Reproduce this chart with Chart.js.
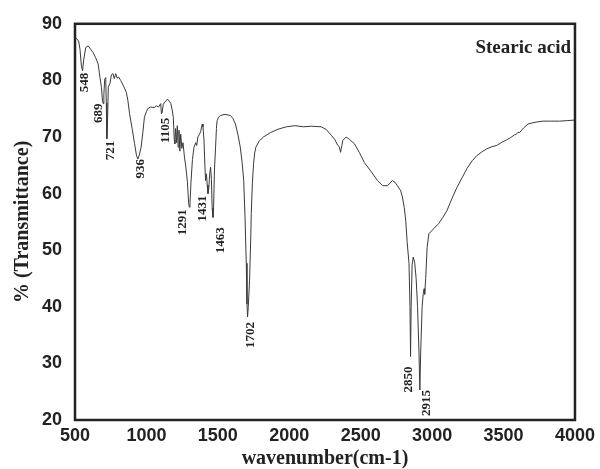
<!DOCTYPE html>
<html>
<head>
<meta charset="utf-8">
<script src="https://cdn.jsdelivr.net/npm/chart.js@4"></script>
<style>
  html, body { margin: 0; padding: 0; background: #fff; }
  #wrap { width: 600px; height: 469px; }
</style>
</head>
<body>
<div id="wrap"><canvas id="irChart"></canvas></div>
<script>
// FTIR trace (cm-1 vs %T)
let wavenumber = [
  505, 512, 525, 535, 545, 553, 560, 575, 592, 610, 627, 645, 662, 675, 685, 692, 697, 702, 708, 715,
  719, 723, 727, 733, 745, 755, 766, 775, 785, 795, 805, 820, 840, 859, 870, 882, 900, 917, 930, 940,
  950, 963, 975, 986, 1000, 1009, 1030, 1055, 1070, 1085, 1100, 1105, 1110, 1118, 1130, 1148, 1160, 1171, 1180, 1188,
  1195, 1199, 1204, 1210, 1216, 1222, 1228, 1234, 1240, 1248, 1256, 1266, 1276, 1287, 1295, 1300, 1305, 1312, 1322, 1333,
  1345, 1352, 1360, 1372, 1380, 1391, 1396, 1403, 1410, 1414, 1420, 1426, 1431, 1437, 1443, 1449, 1455, 1460, 1466, 1470,
  1476, 1484, 1490, 1495, 1505, 1519, 1550, 1588, 1605, 1623, 1640, 1657, 1670, 1681, 1690, 1699, 1704, 1708, 1713, 1722,
  1730, 1734, 1742, 1750, 1758, 1766, 1790, 1819, 1870, 1924, 1980, 2039, 2100, 2155, 2224, 2260, 2294, 2320, 2340, 2350,
  2359, 2368, 2375, 2398, 2420, 2456, 2490, 2525, 2570, 2618, 2653, 2688, 2722, 2740, 2757, 2780, 2792, 2805, 2815, 2825,
  2838, 2845, 2849, 2853, 2860, 2868, 2878, 2888, 2898, 2908, 2914, 2920, 2930, 2938, 2944, 2948, 2955, 2965, 2977, 3011,
  3046, 3075, 3104, 3140, 3174, 3210, 3243, 3280, 3313, 3350, 3382, 3420, 3451, 3490, 3521, 3550, 3578, 3590, 3600, 3613,
  3640, 3671, 3720, 3775, 3830, 3891, 3950, 4000
];
let transmittance = [
  87.5, 87.3, 87.0, 85.5, 82.5, 81.7, 83.5, 85.8, 86.1, 85.5, 84.9, 84.0, 82.9, 80.5, 78.8, 76.5, 75.9, 77.5, 80.2, 80.5,
  76.0, 69.7, 72.0, 78.8, 79.5, 81.0, 81.2, 80.3, 81.2, 80.4, 80.6, 80.0, 79.0, 77.9, 76.5, 74.1, 71.5, 68.8, 66.8, 66.1,
  66.8, 68.2, 70.8, 73.5, 74.5, 75.0, 75.3, 75.2, 75.5, 75.3, 75.9, 74.1, 74.3, 75.8, 76.2, 76.7, 76.3, 75.9, 74.8, 73.5,
  69.5, 68.8, 71.5, 69.0, 72.0, 68.2, 71.2, 67.5, 70.5, 68.0, 69.0, 66.5, 64.7, 62.0, 58.5, 57.6, 58.2, 62.0, 66.0, 68.2,
  69.0, 68.5, 70.0, 70.5, 71.0, 72.3, 71.8, 69.5, 64.5, 62.3, 63.5, 61.5, 60.0, 61.0, 63.5, 64.7, 62.5, 57.5, 55.8, 57.5,
  64.0, 68.2, 71.5, 72.9, 73.5, 73.8, 74.0, 73.8, 73.3, 72.3, 70.5, 68.2, 65.5, 62.3, 56.0, 47.7, 40.5, 38.2, 40.0, 44.7,
  52.0, 56.5, 62.0, 65.3, 67.2, 68.2, 69.3, 70.0, 70.8, 71.4, 71.8, 72.0, 71.8, 71.9, 71.8, 71.3, 70.3, 69.5, 68.5, 68.3,
  67.3, 68.5, 69.4, 70.0, 69.6, 68.8, 67.3, 65.5, 64.0, 62.3, 61.4, 61.4, 62.3, 62.0, 61.4, 60.5, 59.4, 57.5, 55.3, 51.5,
  47.7, 40.0, 31.2, 40.0, 47.5, 48.8, 47.8, 45.0, 40.0, 32.0, 25.3, 32.0, 40.0, 42.4, 43.2, 42.2, 45.0, 50.5, 52.9, 53.8,
  54.7, 55.8, 57.0, 59.2, 61.1, 62.8, 64.4, 65.8, 66.7, 67.4, 67.9, 68.3, 68.5, 69.1, 69.5, 69.9, 70.4, 70.5, 70.8, 70.8,
  71.6, 72.3, 72.6, 72.8, 72.8, 72.8, 72.9, 73.0
];

// band labels written under the minima
let peakWavenumbers = [548, 689, 721, 936, 1105, 1291, 1431, 1463, 1702, 2850, 2915];
let peakLabels = ['548', '689', '721', '936', '1105', '1291', '1431', '1463', '1702', '2850', '2915'];

let xTicks = [500, 1000, 1500, 2000, 2500, 3000, 3500, 4000];
let yTicks = [20, 30, 40, 50, 60, 70, 80, 90];

let points = wavenumber.map((w, i) => ({ x: w, y: transmittance[i] }));

// box around the plot, sample name, band numbers
const framePlugin = {
  id: 'frame',
  afterDraw(chart, args, opts) {
    const { ctx, chartArea: a, scales: { x, y } } = chart;
    ctx.save();
    ctx.strokeStyle = '#222';
    ctx.lineWidth = 2.5;
    ctx.strokeRect(a.left, a.top, a.right - a.left, a.bottom - a.top);

    ctx.fillStyle = '#222';
    ctx.font = 'bold 19px "Liberation Serif"';
    ctx.textAlign = 'right';
    ctx.textBaseline = 'middle';
    ctx.fillText('Stearic acid', a.right - 4, a.top + 24);

    ctx.font = 'bold 13px "Liberation Serif"';
    peakWavenumbers.forEach((wn, i) => {
      let minT = Infinity;
      wavenumber.forEach((w, j) => {
        if (Math.abs(w - wn) <= 12) minT = Math.min(minT, transmittance[j]);
      });
      const [dx, dy] = opts.nudge[i];
      ctx.save();
      ctx.translate(x.getPixelForValue(wn) + dx, y.getPixelForValue(minT) + dy);
      ctx.rotate(-Math.PI / 2);
      ctx.textAlign = 'right';
      ctx.textBaseline = 'middle';
      ctx.fillText(peakLabels[i], 0, 0);
      ctx.restore();
    });
    ctx.restore();
  }
};

let ctx = document.getElementById('irChart').getContext('2d');
let irChart = new Chart(ctx, {
  type: 'line',
  data: {
    datasets: [{
      label: 'Stearic acid',
      data: points,
      borderColor: '#3a3a3a',
      borderWidth: 1,
      pointRadius: 0,
      tension: 0,
      fill: false
    }]
  },
  options: {
    responsive: true,
    maintainAspectRatio: false,
    animation: false,
    layout: { padding: { left: 0, right: 21, top: 23, bottom: 0 } },
    plugins: {
      legend: { display: false },
      tooltip: { enabled: false },
      frame: {
        nudge: [[3, 2], [-3, 0], [4, 2], [3, 0], [4, 4], [-5, 2], [-5, 2], [8, 10], [4, 5], [-2, 10], [7, 0]]
      }
    },
    scales: {
      x: {
        type: 'linear',
        min: 500,
        max: 4000,
        afterBuildTicks: s => { s.ticks = xTicks.map(v => ({ value: v })); },
        afterFit: s => { s.height = 49; },
        grid: { display: false, drawTicks: false },
        border: { display: false },
        ticks: {
          color: '#222',
          padding: 5,
          maxRotation: 0,
          callback: v => String(v),
          font: { family: 'Liberation Sans', size: 18, weight: 'bold' }
        },
        title: {
          display: true,
          text: 'wavenumber(cm-1)',
          color: '#222',
          padding: 0,
          font: { family: 'Liberation Serif', size: 20, weight: 'bold', lineHeight: 1 }
        }
      },
      y: {
        min: 20,
        max: 90,
        afterBuildTicks: s => { s.ticks = yTicks.map(v => ({ value: v })); },
        afterFit: s => { s.width = 75; },
        grid: { display: false, drawTicks: false },
        border: { display: false },
        ticks: {
          color: '#222',
          padding: 13,
          callback: v => String(v),
          font: { family: 'Liberation Sans', size: 18, weight: 'bold' }
        },
        title: {
          display: true,
          text: '% (Transmittance)',
          color: '#222',
          padding: { top: 13, bottom: 0 },
          font: { family: 'Liberation Serif', size: 20, weight: 'bold', lineHeight: 1 }
        }
      }
    }
  },
  plugins: [framePlugin]
});
</script>
</body>
</html>
